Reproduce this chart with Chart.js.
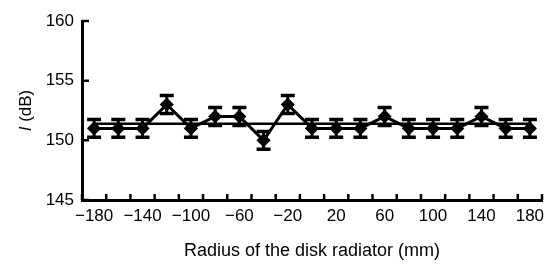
<!DOCTYPE html>
<html>
<head>
<meta charset="utf-8">
<script src="https://cdn.jsdelivr.net/npm/chart.js@4/dist/chart.umd.min.js"></script>
<style>
  html, body { margin: 0; padding: 0; background: #fff; }
  #wrap { width: 554px; height: 264px; position: relative; }
</style>
</head>
<body>
<div id="wrap"><canvas id="c" width="554" height="264"></canvas></div>
<script>
// ---- data ----
const radii = [-180, -160, -140, -120, -100, -80, -60, -40, -20, 0, 20, 40, 60, 80, 100, 120, 140, 160, 180];
const levels = [151, 151, 151, 153, 151, 152, 152, 150, 153, 151, 151, 151, 152, 151, 151, 151, 152, 151, 151];
const errors = [0.75, 0.75, 0.75, 0.75, 0.75, 0.75, 0.75, 0.75, 0.75, 0.75, 0.75, 0.75, 0.75, 0.75, 0.75, 0.75, 0.75, 0.75, 0.75];
const meanLevel = 151.4;
const yTicks = [145, 150, 155, 160];
const xTitle = 'Radius of the disk radiator (mm)';
const yTitleItalic = 'I';
const yTitleRest = ' (dB)';

const FONT = "'Liberation Sans', Arial, sans-serif";
const fmt = v => (v < 0 ? '\u2212' + Math.abs(v) : String(v));
const labels = radii.map(String);

const errorBars = {
  id: 'errorBars',
  afterDatasetsDraw(chart) {
    const ctx = chart.ctx, xs = chart.scales.x, ys = chart.scales.y;
    ctx.save();
    ctx.strokeStyle = '#000';
    levels.forEach((v, i) => {
      const x = xs.getPixelForValue(i);
      const yT = ys.getPixelForValue(v + errors[i]);
      const yB = ys.getPixelForValue(v - errors[i]);
      ctx.lineWidth = 3;
      ctx.beginPath(); ctx.moveTo(x, yT); ctx.lineTo(x, yB); ctx.stroke();
      ctx.lineWidth = 3.5;
      ctx.beginPath();
      ctx.moveTo(x - 7, yT); ctx.lineTo(x + 7, yT);
      ctx.moveTo(x - 7, yB); ctx.lineTo(x + 7, yB);
      ctx.stroke();
    });
    ctx.restore();
  }
};

const axisTicks = {
  id: 'axisTicks',
  afterDraw(chart) {
    const ctx = chart.ctx, xs = chart.scales.x, ys = chart.scales.y;
    const area = chart.chartArea;
    ctx.save();
    ctx.strokeStyle = '#000';
    ctx.lineWidth = 2.5;
    ctx.beginPath();
    const n = radii.length;
    const half = (xs.getPixelForValue(1) - xs.getPixelForValue(0)) / 2;
    for (let i = 0; i <= n; i++) {
      const x = i < n ? xs.getPixelForValue(i) - half : xs.getPixelForValue(n - 1) + half;
      ctx.moveTo(x, area.bottom); ctx.lineTo(x, area.bottom - 6);
    }
    yTicks.forEach(v => {
      const y = ys.getPixelForValue(v);
      ctx.moveTo(area.left, y); ctx.lineTo(area.left + 7, y);
    });
    ctx.stroke();
    // y axis title with italic I
    ctx.fillStyle = '#000';
    ctx.translate(26, (area.top + area.bottom) / 2);
    ctx.rotate(-Math.PI / 2);
    ctx.textBaseline = 'middle';
    ctx.font = 'italic 17px ' + FONT;
    const w1 = ctx.measureText(yTitleItalic).width;
    ctx.font = '17px ' + FONT;
    const w2 = ctx.measureText(yTitleRest).width;
    let sx = -(w1 + w2) / 2;
    ctx.font = 'italic 17px ' + FONT;
    ctx.fillText(yTitleItalic, sx, 0);
    ctx.font = '17px ' + FONT;
    ctx.fillText(yTitleRest, sx + w1, 0);
    ctx.restore();
  }
};

new Chart(document.getElementById('c'), {
  type: 'line',
  data: {
    labels: labels,
    datasets: [
      {
        data: levels,
        borderColor: '#000',
        backgroundColor: '#000',
        borderWidth: 3,
        pointStyle: 'rectRot',
        pointRadius: 6,
        pointBorderWidth: 1.5,
        pointBackgroundColor: '#000',
        pointBorderColor: '#000',
        tension: 0,
        order: 1
      },
      {
        data: [{ x: labels[0], y: meanLevel }, { x: labels[labels.length - 1], y: meanLevel }],
        borderColor: '#000',
        borderWidth: 2.5,
        pointRadius: 0,
        order: 2
      }
    ]
  },
  options: {
    responsive: false,
    animation: false,
    events: [],
    layout: { padding: { top: 21, right: 12, left: 0, bottom: 0 } },
    plugins: { legend: { display: false }, tooltip: { enabled: false } },
    scales: {
      x: {
        type: 'category',
        offset: true,
        grid: { display: false, drawTicks: false, offset: true },
        border: { display: true, color: '#000', width: 3 },
        ticks: {
          autoSkip: false,
          maxRotation: 0,
          padding: 6,
          color: '#000',
          font: { family: FONT, size: 17 },
          callback: (val, idx) => (idx % 2 === 0 ? fmt(radii[idx]) : '')
        },
        title: {
          display: true,
          text: xTitle,
          color: '#000',
          font: { family: FONT, size: 18 },
          padding: { top: 0, bottom: 2 }
        },
        afterFit: s => { s.height = 64; }
      },
      y: {
        min: 145,
        max: 160,
        grid: { display: false, drawTicks: false },
        border: { display: true, color: '#000', width: 3 },
        ticks: {
          stepSize: 5,
          padding: 8,
          color: '#000',
          font: { family: FONT, size: 17 }
        },
        afterFit: s => { s.width = 82; }
      }
    }
  },
  plugins: [errorBars, axisTicks]
});
</script>
</body>
</html>
